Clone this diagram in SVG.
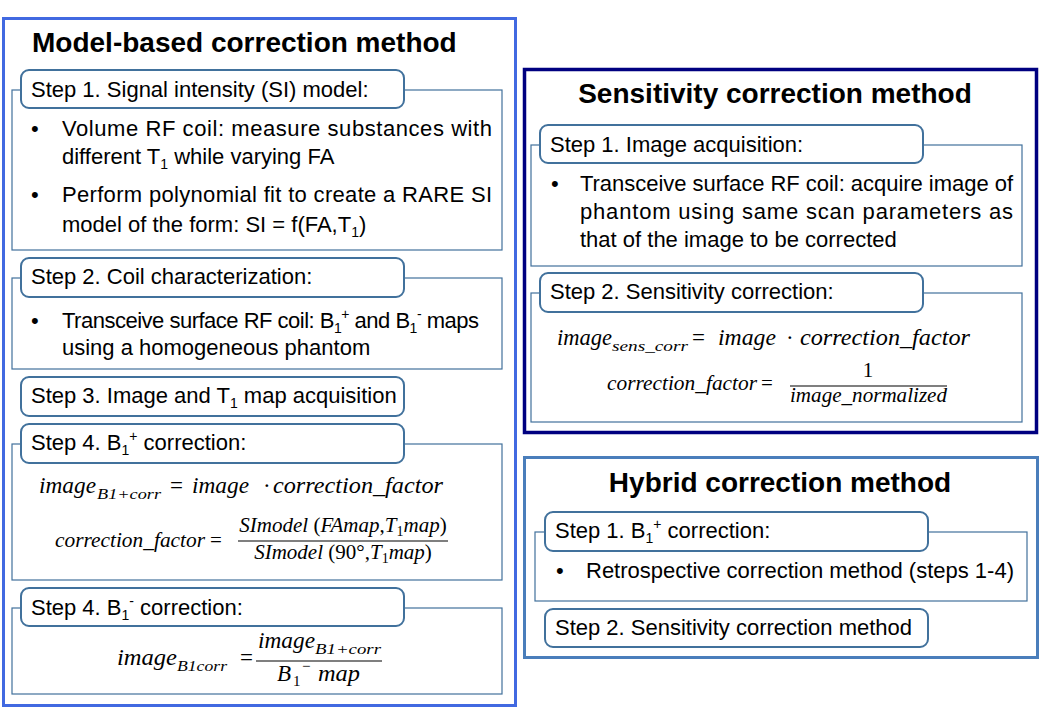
<svg xmlns="http://www.w3.org/2000/svg" width="1040" height="720" viewBox="0 0 1040 720">
<style>
.title{font-family:"Liberation Sans",Arial,sans-serif;font-weight:bold;font-size:28px;fill:#000}
.t{font-family:"Liberation Sans",Arial,sans-serif;font-size:22px;fill:#000}
.sm{font-size:14px}
.hdr{fill:#fff;stroke:#41719C;stroke-width:2}
.body{fill:#fff;stroke:#41719C;stroke-width:1.2}
.m{font-family:"Liberation Serif","Times New Roman",serif;font-style:italic;fill:#000}
.u{font-family:"Liberation Serif","Times New Roman",serif;font-style:normal;fill:#000}
.fl{stroke:#000;stroke-width:1.2}
</style>
<rect width="1040" height="720" fill="#fff"/>

<g id="panel-model">
  <rect x="3.5" y="18.5" width="512" height="687" fill="#fff" stroke="#4169E1" stroke-width="3"/>
  <text class="title" x="32" y="52">Model-based correction method</text>
</g>

<g id="model-step1">
  <rect class="body" x="12" y="90" width="490" height="160"/>
  <rect class="hdr" x="21" y="70" width="383" height="38" rx="8"/>
  <text class="t" x="31" y="97">Step 1. Signal intensity (SI) model:</text>
  <text class="t" x="31" y="136">•</text>
  <text class="t" x="62" y="136" textLength="430" lengthAdjust="spacing">Volume RF coil: measure substances with</text>
  <text class="t" x="62" y="164">different T<tspan class="sm" dy="5">1</tspan><tspan dy="-5"> while varying FA</tspan></text>
  <text class="t" x="31" y="202">•</text>
  <text class="t" x="62" y="202" textLength="430" lengthAdjust="spacing">Perform polynomial fit to create a RARE SI</text>
  <text class="t" x="62" y="232">model of the form: SI = f(FA,T<tspan class="sm" dy="5">1</tspan><tspan dy="-5">)</tspan></text>
</g>

<g id="model-step2">
  <rect class="body" x="12" y="278" width="490" height="91"/>
  <rect class="hdr" x="21" y="258" width="383" height="39" rx="8"/>
  <text class="t" x="31" y="284">Step 2. Coil characterization:</text>
  <text class="t" x="31" y="328">•</text>
  <text class="t" x="62" y="328" letter-spacing="-0.5">Transceive surface RF coil: B<tspan class="sm" dy="5">1</tspan><tspan class="sm" dy="-14">+</tspan><tspan dy="9"> and B</tspan><tspan class="sm" dy="5">1</tspan><tspan class="sm" dy="-14">-</tspan><tspan dy="9"> maps</tspan></text>
  <text class="t" x="62" y="355">using a homogeneous phantom</text>
</g>

<g id="model-step3">
  <rect class="hdr" x="21" y="377" width="383" height="39" rx="8"/>
  <text class="t" x="31" y="403">Step 3. Image and T<tspan class="sm" dy="5">1</tspan><tspan dy="-5"> map acquisition</tspan></text>
</g>

<g id="model-step4a">
  <rect class="body" x="12" y="444" width="490" height="136"/>
  <rect class="hdr" x="21" y="424" width="383" height="39" rx="8"/>
  <text class="t" x="31" y="450">Step 4. B<tspan class="sm" dy="5">1</tspan><tspan class="sm" dy="-14">+</tspan><tspan dy="9"> correction:</tspan></text>
  <text class="m" x="39" y="493" font-size="23" textLength="57" lengthAdjust="spacingAndGlyphs">image</text>
  <text class="m" x="97" y="499" font-size="15" textLength="64" lengthAdjust="spacingAndGlyphs">B1+corr</text>
  <text class="u" x="170" y="493" font-size="23">=</text>
  <text class="m" x="192" y="493" font-size="23" textLength="57" lengthAdjust="spacingAndGlyphs">image</text>
  <text class="u" x="263" y="493" font-size="23">·</text>
  <text class="m" x="273" y="493" font-size="23" textLength="170" lengthAdjust="spacingAndGlyphs">correction_factor</text>
  <text class="m" x="55" y="547" font-size="21" textLength="150" lengthAdjust="spacingAndGlyphs">correction_factor</text>
  <text class="u" x="210" y="547" font-size="21">=</text>
  <text class="m" x="343" y="532" font-size="21" text-anchor="middle">SImodel <tspan class="u">(</tspan>FAmap<tspan class="u">,</tspan>T<tspan class="u" font-size="14" dy="4">1</tspan><tspan dy="-4">map</tspan><tspan class="u">)</tspan></text>
  <line class="fl" x1="238" y1="541" x2="448" y2="541"/>
  <text class="m" x="343" y="559" font-size="21" text-anchor="middle">SImodel <tspan class="u">(90°,</tspan>T<tspan class="u" font-size="14" dy="4">1</tspan><tspan dy="-4">map</tspan><tspan class="u">)</tspan></text>
</g>

<g id="model-step4b">
  <rect class="body" x="12" y="608" width="490" height="86"/>
  <rect class="hdr" x="21" y="588" width="383" height="38" rx="8"/>
  <text class="t" x="31" y="615">Step 4. B<tspan class="sm" dy="5">1</tspan><tspan class="sm" dy="-14">-</tspan><tspan dy="9"> correction:</tspan></text>
  <text class="m" x="117" y="665" font-size="23" textLength="60" lengthAdjust="spacingAndGlyphs">image</text>
  <text class="m" x="177" y="671" font-size="15" textLength="50" lengthAdjust="spacingAndGlyphs">B1corr</text>
  <text class="u" x="240" y="665" font-size="23">=</text>
  <text class="m" x="258" y="648" font-size="23" textLength="57" lengthAdjust="spacingAndGlyphs">image</text>
  <text class="m" x="315" y="654" font-size="15" textLength="66" lengthAdjust="spacingAndGlyphs">B1+corr</text>
  <line class="fl" x1="256" y1="661" x2="382" y2="661"/>
  <text class="m" x="277" y="681" font-size="23">B</text>
  <text class="u" x="293" y="686" font-size="15">1</text>
  <text class="u" x="302" y="671" font-size="15">−</text>
  <text class="m" x="318" y="681" font-size="23" textLength="42" lengthAdjust="spacingAndGlyphs">map</text>
</g>

<g id="panel-sensitivity">
  <rect x="524.5" y="69.5" width="512" height="363" fill="#fff" stroke="#000080" stroke-width="3.5"/>
  <text class="title" x="775" y="103" text-anchor="middle">Sensitivity correction method</text>
</g>

<g id="sens-step1">
  <rect class="body" x="531" y="145" width="491" height="121"/>
  <rect class="hdr" x="540" y="125" width="383" height="38" rx="8"/>
  <text class="t" x="550" y="152">Step 1. Image acquisition:</text>
  <text class="t" x="551" y="191">•</text>
  <text class="t" x="580" y="191" textLength="433" lengthAdjust="spacing">Transceive surface RF coil: acquire image of</text>
  <text class="t" x="580" y="219" textLength="433" lengthAdjust="spacing">phantom using same scan parameters as</text>
  <text class="t" x="580" y="247">that of the image to be corrected</text>
</g>

<g id="sens-step2">
  <rect class="body" x="531" y="293" width="491" height="129"/>
  <rect class="hdr" x="540" y="273" width="383" height="39" rx="8"/>
  <text class="t" x="550" y="299">Step 2. Sensitivity correction:</text>
  <text class="m" x="557" y="345" font-size="23" textLength="55" lengthAdjust="spacingAndGlyphs">image</text>
  <text class="m" x="612" y="351" font-size="15" textLength="76" lengthAdjust="spacingAndGlyphs">sens_corr</text>
  <text class="u" x="692" y="345" font-size="23">=</text>
  <text class="m" x="718" y="345" font-size="23" textLength="58" lengthAdjust="spacingAndGlyphs">image</text>
  <text class="u" x="786" y="345" font-size="23">·</text>
  <text class="m" x="800" y="345" font-size="23" textLength="170" lengthAdjust="spacingAndGlyphs">correction_factor</text>
  <text class="m" x="607" y="390" font-size="21" textLength="150" lengthAdjust="spacingAndGlyphs">correction_factor</text>
  <text class="u" x="761" y="390" font-size="21">=</text>
  <text class="u" x="868" y="377" font-size="21" text-anchor="middle">1</text>
  <line class="fl" x1="790" y1="386" x2="947" y2="386"/>
  <text class="m" x="790" y="402" font-size="21" textLength="157" lengthAdjust="spacingAndGlyphs">image_normalized</text>
</g>

<g id="panel-hybrid">
  <rect x="524.5" y="457.5" width="513" height="200" fill="#fff" stroke="#4A7EBB" stroke-width="3"/>
  <text class="title" x="780" y="492" text-anchor="middle">Hybrid correction method</text>
</g>

<g id="hybrid-step1">
  <rect class="body" x="535" y="532" width="492" height="69"/>
  <rect class="hdr" x="545" y="512" width="383" height="39" rx="8"/>
  <text class="t" x="555" y="538">Step 1. B<tspan class="sm" dy="5">1</tspan><tspan class="sm" dy="-14">+</tspan><tspan dy="9"> correction:</tspan></text>
  <text class="t" x="556" y="578">•</text>
  <text class="t" x="586" y="578">Retrospective correction method (steps 1-4)</text>
</g>

<g id="hybrid-step2">
  <rect class="hdr" x="545" y="609" width="383" height="38" rx="8"/>
  <text class="t" x="555" y="635">Step 2. Sensitivity correction method</text>
</g>

<g id="connectors"/>
</svg>
